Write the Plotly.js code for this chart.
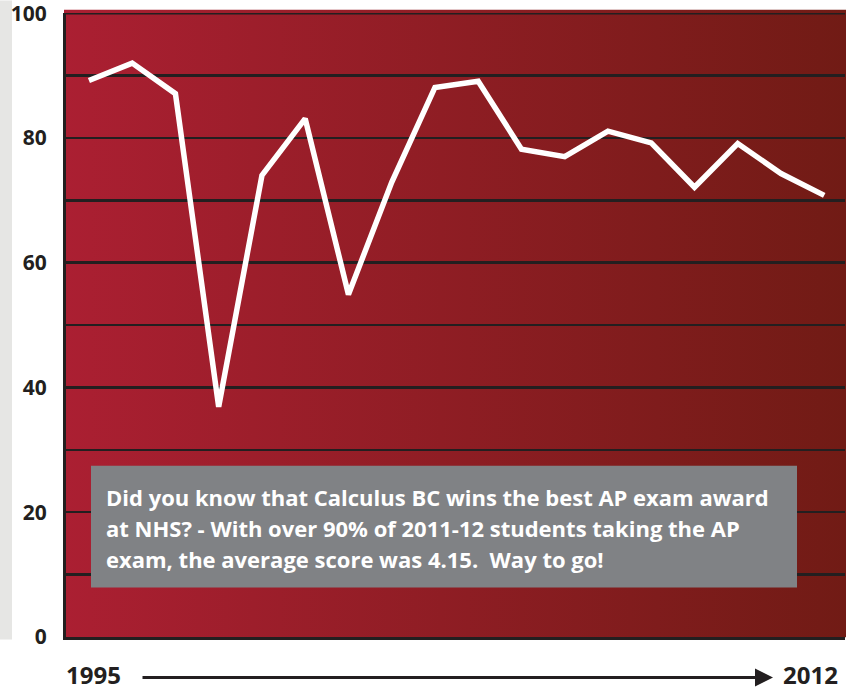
<!DOCTYPE html>
<html>
<head>
<meta charset="utf-8">
<script src="https://cdn.plot.ly/plotly-3.0.1.min.js"></script>
<style>
  html, body { margin: 0; padding: 0; background: #ffffff; }
  #chart { width: 855px; height: 692px; }
</style>
</head>
<body>
<div id="chart"></div>
<script>
// ---- data ----
var years = [1995, 1996, 1997, 1998, 1999, 2000, 2001, 2002, 2003, 2004, 2005, 2006, 2007, 2008, 2009, 2010, 2011, 2012];
var values = [89.2, 92.0, 87.1, 36.9, 74.0, 83.1, 54.9, 72.9, 88.1, 89.1, 78.2, 77.0, 81.1, 79.2, 72.1, 79.1, 74.3, 70.8];
var yTickVals = [0, 20, 40, 60, 80, 100];
var yTickText = ['0', '20', '40', '60', '80', '100'];
var startLabel = '1995';
var endLabel = '2012';
var noteLines = [
  'Did you know that Calculus BC wins the best AP exam award',
  'at NHS? - With over 90% of 2011-12 students taking the AP',
  'exam, the average score was 4.15.  Way to go!'
];

// ---- geometry helpers (pixel -> paper) ----
var L = 66, R = 845, T = 12.5, B = 637.5;
function px(x) { return (x - L) / (R - L); }
function py(y) { return (B - y) / (B - T); }

var gradSvg = '<svg xmlns="http://www.w3.org/2000/svg" width="100" height="100" preserveAspectRatio="none">' +
  '<defs><linearGradient id="g" x1="0" y1="0" x2="1" y2="0">' +
  '<stop offset="0" stop-color="#ab1f32"/><stop offset="1" stop-color="#711b15"/>' +
  '</linearGradient></defs><rect width="100" height="100" fill="url(#g)"/></svg>';
var gradUri = 'data:image/svg+xml;base64,' + btoa(gradSvg);

var dark = '#231f20';
var textFont = '"Open Sans", Lato, sans-serif';

var annotations = [];
noteLines.forEach(function (line, i) {
  annotations.push({
    xref: 'paper', yref: 'paper',
    x: px(105), y: py(497 + i * 31),
    xanchor: 'left', yanchor: 'middle', align: 'left',
    showarrow: false, borderpad: 0,
    text: '<b>' + line + '</b>',
    font: { family: textFont, size: 22, color: '#ffffff' }
  });
});
annotations.push({
  xref: 'paper', yref: 'paper', x: px(65), y: py(675),
  xanchor: 'left', yanchor: 'middle', showarrow: false, borderpad: 0,
  text: '<b>' + startLabel + '</b>',
  font: { family: textFont, size: 24, color: dark }
});
annotations.push({
  xref: 'paper', yref: 'paper', x: px(839), y: py(675),
  xanchor: 'right', yanchor: 'middle', showarrow: false, borderpad: 0,
  text: '<b>' + endLabel + '</b>',
  font: { family: textFont, size: 24, color: dark }
});
annotations.push({
  xref: 'paper', yref: 'paper', x: px(773), y: py(678),
  axref: 'pixel', ayref: 'pixel', ax: -632, ay: 0,
  text: '', showarrow: true,
  arrowhead: 2, arrowsize: 1.2, arrowwidth: 3, arrowcolor: dark,
  standoff: 0
});

var trace = {
  x: years,
  y: values,
  type: 'scatter',
  mode: 'lines',
  line: { color: '#ffffff', width: 5.5 },
  hoverinfo: 'skip'
};

var layout = {
  width: 855, height: 692,
  margin: { l: L, r: 855 - R, t: T, b: 692 - B },
  paper_bgcolor: '#ffffff',
  plot_bgcolor: '#8e1e24',
  showlegend: false,
  xaxis: {
    range: [1994.47, 2012.48],
    showgrid: false, zeroline: false,
    showticklabels: false, ticks: '',
    showline: true, linecolor: dark, linewidth: 3,
    fixedrange: true
  },
  yaxis: {
    range: [0, 100.03],
    tickvals: yTickVals, ticktext: yTickText,
    showgrid: true, gridcolor: dark, gridwidth: 2.5,
    minor: { dtick: 10, showgrid: true, gridcolor: dark, gridwidth: 2.5, ticks: '' },
    zeroline: false,
    showline: true, linecolor: dark, linewidth: 3,
    ticks: '', ticklabelstandoff: 12,
    ticklabeloverflow: 'allow',
    tickfont: { family: textFont, size: 21, color: dark, weight: 700 },
    fixedrange: true
  },
  images: [{
    source: gradUri,
    xref: 'paper', yref: 'paper',
    x: px(64), y: py(9), sizex: px(846) - px(64), sizey: py(9) - py(638),
    xanchor: 'left', yanchor: 'top',
    sizing: 'stretch', layer: 'below'
  }],
  shapes: [
    { type: 'rect', xref: 'paper', yref: 'paper', layer: 'below',
      x0: px(0), x1: px(12), y0: py(640), y1: py(0),
      fillcolor: '#e6e6e4', line: { width: 0 } },
    { type: 'rect', xref: 'paper', yref: 'paper', layer: 'above',
      x0: px(91), x1: px(797), y0: py(588), y1: py(466),
      fillcolor: '#808285', line: { width: 0 } },
    { type: 'line', xref: 'paper', yref: 'y', layer: 'above',
      x0: 0, x1: 1, y0: 100, y1: 100,
      line: { color: dark, width: 2.5 } }
  ],
  annotations: annotations
};

Plotly.newPlot('chart', [trace], layout, { displayModeBar: false, staticPlot: true });
</script>
</body>
</html>
